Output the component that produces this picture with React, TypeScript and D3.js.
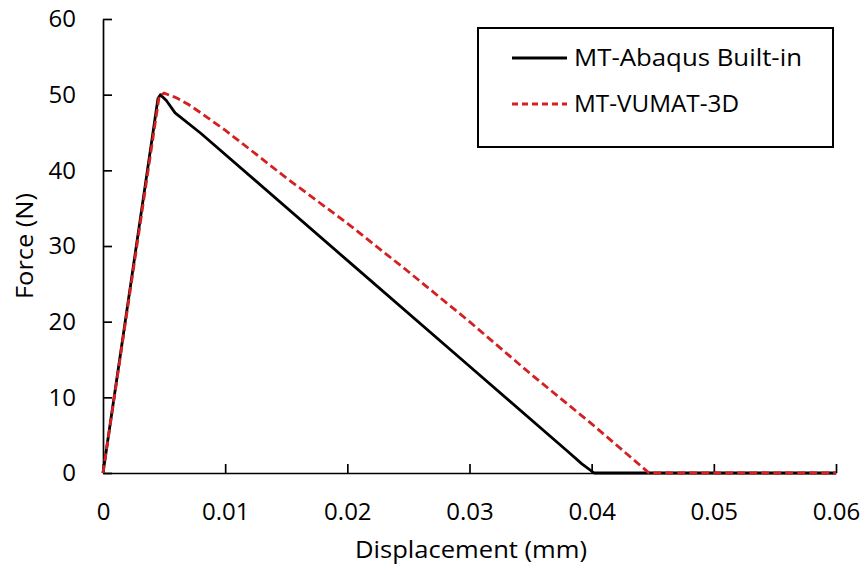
import * as d3 from "d3";
import { useEffect, useRef } from "react";

// series
const builtinX = [0, 0.0045, 0.0047, 0.0052, 0.0059, 0.008, 0.02, 0.03, 0.038, 0.0392, 0.0402, 0.06];
const builtinY = [0, 49.5, 50.0, 49.2, 47.6, 44.9, 28.1, 14.1, 2.9, 1.2, 0, 0];
const vumatX = [0, 0.0046, 0.005, 0.006, 0.007, 0.008, 0.01, 0.012, 0.015, 0.02, 0.025, 0.03, 0.035, 0.04, 0.0447, 0.06];
const vumatY = [0, 49.8, 50.2, 49.6, 48.7, 47.6, 45.3, 42.8, 39.0, 33.0, 26.6, 20.0, 13.1, 6.5, 0, 0];

const xTicks = [0, 0.01, 0.02, 0.03, 0.04, 0.05, 0.06];
const yTicks = [0, 10, 20, 30, 40, 50, 60];
const seriesNames = ["MT-Abaqus Built-in", "MT-VUMAT-3D"];

export default function App() {
  const svgRef = useRef<SVGSVGElement>(null);

  const width = 868;
  const height = 575;
  const margin = { top: 19, right: 32, bottom: 102, left: 103 };
  const font = "'Open Sans', 'DejaVu Sans', sans-serif";
  const fontSize = 24;

  useEffect(() => {
    document.body.style.margin = "0";
    const svg = d3.select(svgRef.current);
    svg.selectAll("*").remove();

    const x = d3.scaleLinear().domain([0, 0.06]).range([margin.left, width - margin.right]);
    const y = d3.scaleLinear().domain([0, 60]).range([height - margin.bottom, margin.top]);

    // axes, ticks point inward
    const xAxis = d3.axisBottom(x).tickValues(xTicks).tickSizeInner(-9).tickSizeOuter(0).tickPadding(30)
      .tickFormat((d) => (d === 0 ? "0" : d3.format(".2f")(d as number)));
    const yAxis = d3.axisLeft(y).tickValues(yTicks).tickSizeInner(-9).tickSizeOuter(0).tickPadding(27);

    const gx = svg.append("g").attr("transform", `translate(0,${y(0)})`).call(xAxis);
    const gy = svg.append("g").attr("transform", `translate(${x(0)},0)`).call(yAxis);
    [gx, gy].forEach((g) => {
      g.selectAll("path, line").attr("stroke", "#000").attr("stroke-width", 1.7);
      g.selectAll("text").attr("font-family", font).attr("font-size", fontSize).attr("fill", "#000");
    });

    const line = d3.line<[number, number]>().x((d) => x(d[0])).y((d) => y(d[1]));

    // black first, red dashed drawn over it
    svg.append("path")
      .datum(d3.zip(builtinX, builtinY) as [number, number][])
      .attr("d", line)
      .attr("fill", "none")
      .attr("stroke", "#000")
      .attr("stroke-width", 2.8)
      .attr("stroke-linejoin", "round");

    svg.append("path")
      .datum(d3.zip(vumatX, vumatY) as [number, number][])
      .attr("d", line)
      .attr("fill", "none")
      .attr("stroke", "#d42020")
      .attr("stroke-width", 2.8)
      .attr("stroke-dasharray", "8,4");

    // axis titles
    svg.append("text")
      .attr("x", 471)
      .attr("y", 558)
      .attr("text-anchor", "middle")
      .attr("font-family", font)
      .attr("font-size", fontSize)
      .attr("textLength", 232)
      .attr("lengthAdjust", "spacingAndGlyphs")
      .text("Displacement (mm)");

    svg.append("text")
      .attr("transform", `translate(33,${(y(0) + y(60)) / 2}) rotate(-90)`)
      .attr("text-anchor", "middle")
      .attr("font-family", font)
      .attr("font-size", fontSize)
      .attr("textLength", 106)
      .attr("lengthAdjust", "spacingAndGlyphs")
      .text("Force (N)");

    // legend
    const lg = svg.append("g");
    lg.append("rect")
      .attr("x", 478).attr("y", 28).attr("width", 355).attr("height", 119)
      .attr("fill", "#fff").attr("stroke", "#000").attr("stroke-width", 2);
    const styles = [
      { color: "#000", dash: null as string | null, len: 228 },
      { color: "#d42020", dash: "6,4", len: 165 },
    ];
    seriesNames.forEach((name, i) => {
      const ly = 58 + i * 46;
      lg.append("line")
        .attr("x1", 512).attr("x2", 567).attr("y1", ly).attr("y2", ly)
        .attr("stroke", styles[i].color).attr("stroke-width", 2.8)
        .attr("stroke-dasharray", styles[i].dash);
      lg.append("text")
        .attr("x", 574).attr("y", ly).attr("dy", "0.35em")
        .attr("font-family", font).attr("font-size", fontSize)
        .attr("textLength", styles[i].len)
        .attr("lengthAdjust", "spacingAndGlyphs")
        .text(name);
    });
  }, []);

  return <svg ref={svgRef} width={width} height={height} style={{ display: "block", background: "#fff" }} />;
}
